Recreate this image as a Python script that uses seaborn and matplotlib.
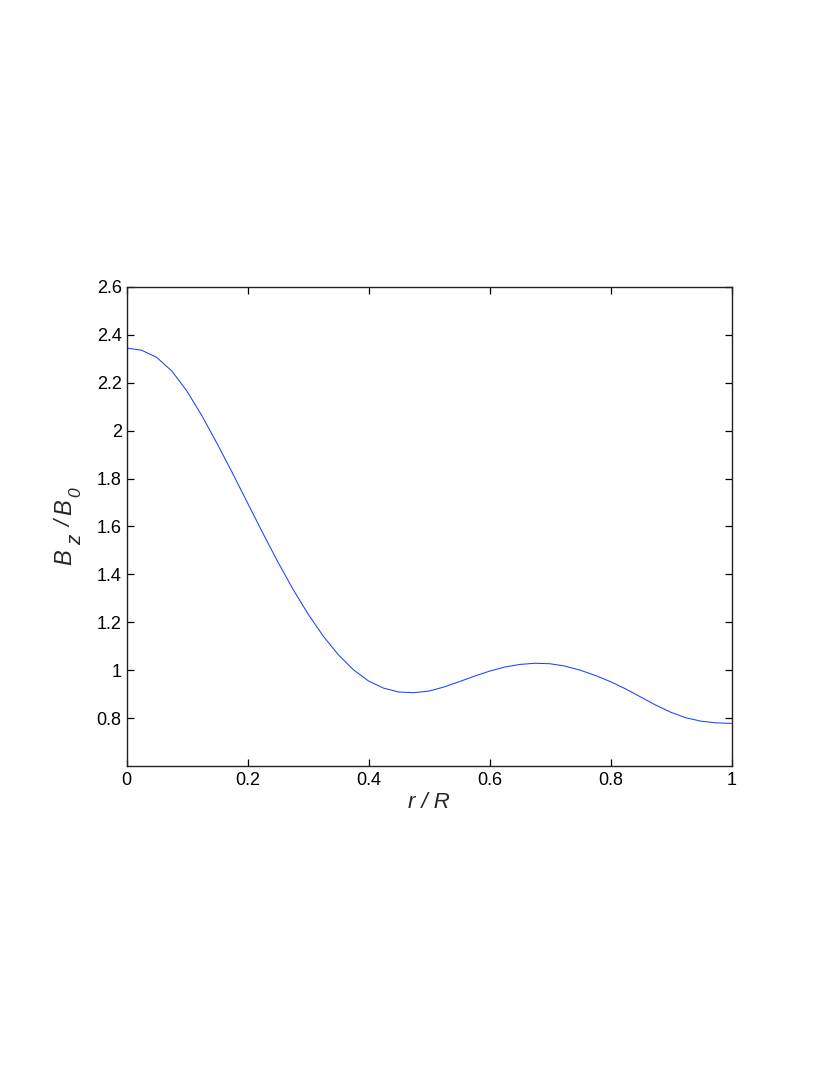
import matplotlib
matplotlib.use("Agg")
import matplotlib.pyplot as plt
import seaborn as sns
import pandas as pd
from matplotlib.ticker import FuncFormatter

# Data
r_values = [0.0, 0.025, 0.05, 0.075, 0.1, 0.125, 0.15, 0.175, 0.2, 0.225,
            0.25, 0.275, 0.3, 0.325, 0.35, 0.375, 0.4, 0.425, 0.45, 0.475,
            0.5, 0.525, 0.55, 0.575, 0.6, 0.625, 0.65, 0.675, 0.7, 0.725,
            0.75, 0.775, 0.8, 0.825, 0.85, 0.875, 0.9, 0.925, 0.95, 0.975, 1.0]
bz_values = [2.345, 2.336, 2.306, 2.249, 2.165, 2.061, 1.945, 1.824, 1.699, 1.574,
             1.453, 1.339, 1.235, 1.143, 1.065, 1.002, 0.955, 0.925, 0.909, 0.906,
             0.913, 0.930, 0.952, 0.975, 0.996, 1.013, 1.024, 1.029, 1.027, 1.017,
             1.000, 0.978, 0.952, 0.922, 0.888, 0.854, 0.824, 0.801, 0.787, 0.780, 0.778]
x_ticks = [0, 0.2, 0.4, 0.6, 0.8, 1.0]
y_ticks = [0.8, 1.0, 1.2, 1.4, 1.6, 1.8, 2.0, 2.2, 2.4, 2.6]
x_label = "r / R"
# y label pieces: main letters and subscripts
y_label_parts = ["B", "z", "/", "B", "0"]

sns.set_style("ticks")
plt.rcParams['font.family'] = ['Liberation Sans', 'DejaVu Sans']

df = pd.DataFrame({"r": r_values, "Bz": bz_values})

W, H = 830, 1075
fig = plt.figure(figsize=(W / 100, H / 100), dpi=100)
ax = fig.add_axes([126.5 / W, 1 - 766 / H, (731.5 - 126.5) / W, (766 - 287) / H])

sns.lineplot(data=df, x="r", y="Bz", ax=ax, color="#1f3fff", linewidth=0.75)

ax.set_xlim(0, 1)
ax.set_ylim(0.6, 2.6)
ax.set_xticks(x_ticks)
ax.set_yticks(y_ticks)
fmt = FuncFormatter(lambda v, p: f"{v:g}")
ax.xaxis.set_major_formatter(fmt)
ax.yaxis.set_major_formatter(fmt)
ax.tick_params(direction="in", length=5, width=0.9, labelsize=13,
               top=True, right=True, colors="black")
ax.tick_params(axis="x", pad=4.5)
ax.tick_params(axis="y", pad=3.5)
for s in ax.spines.values():
    s.set_visible(True)
    s.set_linewidth(1.0)
    s.set_color("#222222")

ax.set_xlabel("")
ax.set_ylabel("")

# x label
fig.text(428.5 / W, 1 - 802.5 / H, x_label, fontsize=16, style="italic",
         ha="center", va="center")

# y label composed of pieces (large subscripts as in reference)
piece_pos = [(65, 557.5, 17), (75.5, 539.5, 15), (65.5, 524, 16), (65, 507.5, 17), (76, 492.5, 12.5)]
for txt, (px, py, fs) in zip(y_label_parts, piece_pos):
    fig.text(px / W, 1 - py / H, txt, fontsize=fs, style="italic", rotation=90,
             ha="center", va="center")

fig.savefig("out.png", dpi=100, facecolor="white")
